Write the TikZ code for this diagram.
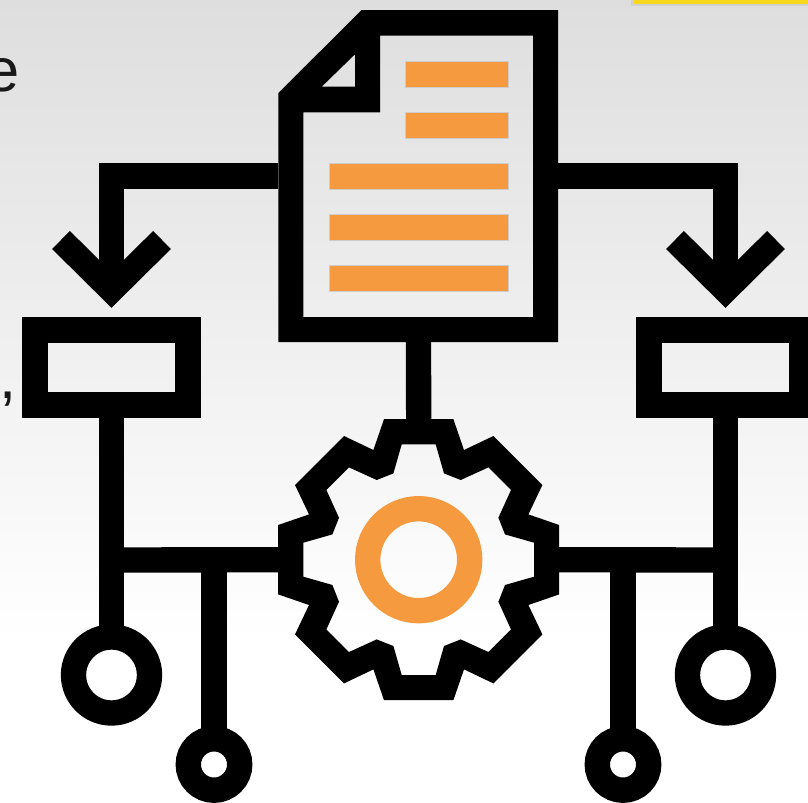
\documentclass[tikz,border=0pt]{standalone}
\usepackage{xcolor}
\usepackage{fontspec}
\setmainfont{Liberation Sans}
\definecolor{barorange}{HTML}{F59A3E}
\definecolor{topgrey}{HTML}{DEDEDE}
\definecolor{tabyellow}{HTML}{F8D81C}
\tikzset{
	wire/.style={draw=black, line width=19pt, line join=miter},
	slotbox/.style={draw=black, line width=19pt, minimum width=114.75pt, minimum height=56.25pt, inner sep=0pt},
	bigring/.style={draw=black, line width=19pt, circle, minimum size=57pt, inner sep=0pt},
	smallring/.style={draw=black, line width=19pt, circle, minimum size=38.6pt, inner sep=0pt},
	bar/.style={fill=barorange, draw=black!20, line width=0.3pt},
	cuttext/.style={font=\fontsize{46pt}{46pt}\selectfont, text=black!90, inner sep=0pt},
}
\begin{document}
\begin{tikzpicture}[x=0.75pt, y=-0.75pt]
	\useasboundingbox (0,0) rectangle (808,803);
	\clip (0,0) rectangle (808,803);
	% backdrop
	\shade[top color=topgrey, bottom color=white] (0,0) rectangle (808,640);
	\fill[white] (0,640) rectangle (808,803);
	\fill[black!18] (631,0) rectangle (808,5.5);
	\fill[tabyellow] (633.5,0) rectangle (808,3.5);
	% text cut off at the edge
	\node[cuttext, anchor=base east] (wordend) at (20,91.5) {e};
	\node[cuttext, anchor=base east] (comma) at (16.4,398) {,};
	% sheet with folded corner
	\fill[even odd rule] (361.7,10) -- (558,10) -- (558,342) -- (278.3,342) -- (278.3,93) -- cycle
		(380,35.7) -- (533,35.7) -- (533,317) -- (303.3,317) -- (303.3,112.3) -- (380,112.3) -- cycle
		(355,54.3) -- (355,86.7) -- (321.7,86.7) -- cycle;
	\foreach \ytop in {61,112}
		\filldraw[bar] (405,\ytop) rectangle (508.5,\ytop+26);
	\foreach \ytop in {163,214,265}
		\filldraw[bar] (329,\ytop) rectangle (508.5,\ytop+26);
	\coordinate (sheetl) at (278.3,176);
	\coordinate (sheetr) at (558,176);
	\coordinate (sheetb) at (418.5,342);
	% gear
	\begin{scope}[shift={(418.7,559.7)}]
		\fill[even odd rule]
			(-34.7,-140.5) -- (34.7,-140.5) -- (45.3,-109.7) -- (74.7,-123.7) -- (123.7,-74.7) -- (109.7,-45.3) -- (140.5,-34.7)
			-- (140.5,34.7) -- (109.7,45.3) -- (123.7,74.7) -- (74.7,123.7) -- (45.3,109.7) -- (34.7,140.5)
			-- (-34.7,140.5) -- (-45.3,109.7) -- (-74.7,123.7) -- (-123.7,74.7) -- (-109.7,45.3) -- (-140.5,34.7)
			-- (-140.5,-34.7) -- (-109.7,-45.3) -- (-123.7,-74.7) -- (-74.7,-123.7) -- (-45.3,-109.7) -- cycle
			(-17,-115.3) -- (17,-115.3) -- (25.3,-86.3) -- (42,-79.7) -- (69.7,-92.3) -- (92.3,-69.7) -- (79.7,-42) -- (86.3,-25.3) -- (115.3,-17)
			-- (115.3,17) -- (86.3,25.3) -- (79.7,42) -- (92.3,69.7) -- (69.7,92.3) -- (42,79.7) -- (25.3,86.3) -- (17,115.3)
			-- (-17,115.3) -- (-25.3,86.3) -- (-42,79.7) -- (-69.7,92.3) -- (-92.3,69.7) -- (-79.7,42) -- (-86.3,25.3) -- (-115.3,17)
			-- (-115.3,-17) -- (-86.3,-25.3) -- (-79.7,-42) -- (-92.3,-69.7) -- (-69.7,-92.3) -- (-42,-79.7) -- (-25.3,-86.3) -- cycle;
		\draw[barorange, line width=19pt] (0,0) circle (51);
		\coordinate (gearl) at (-135,0);
		\coordinate (gearr) at (135,0);
		\coordinate (geart) at (0,-135);
	\end{scope}
	% boxes and rings
	\node[slotbox] (boxl) at (111.5,367.5) {};
	\node[slotbox] (boxr) at (725.5,367.5) {};
	\node[bigring] (ringl) at (111.5,675) {};
	\node[bigring] (ringr) at (725.5,675) {};
	\node[smallring] (dotl) at (214,764.5) {};
	\node[smallring] (dotr) at (623,764.5) {};
	\coordinate (tipl) at (111.5,290);
	\coordinate (tipr) at (725.5,290);
	\coordinate (busl) at (111.5,560);
	\coordinate (busr) at (725.5,560);
	% connectors
	\draw[wire] (sheetl) -| (tipl);
	\draw[wire] (sheetr) -| (tipr);
	\draw[wire] (61,240) -- (tipl) -- (162,240);
	\draw[wire] (675,240) -- (tipr) -- (776,240);
	\draw[wire] (sheetb) -- (geart);
	\draw[wire] (boxl.south) -- ([yshift=-8pt]ringl.north);
	\draw[wire] (boxr.south) -- ([yshift=-8pt]ringr.north);
	\draw[wire] (busl) -- (gearl);
	\draw[wire] (busr) -- (gearr);
	\draw[wire] (gearl -| dotl) -- ([yshift=-8pt]dotl.north);
	\draw[wire] (gearr -| dotr) -- ([yshift=-8pt]dotr.north);
\end{tikzpicture}
\end{document}
